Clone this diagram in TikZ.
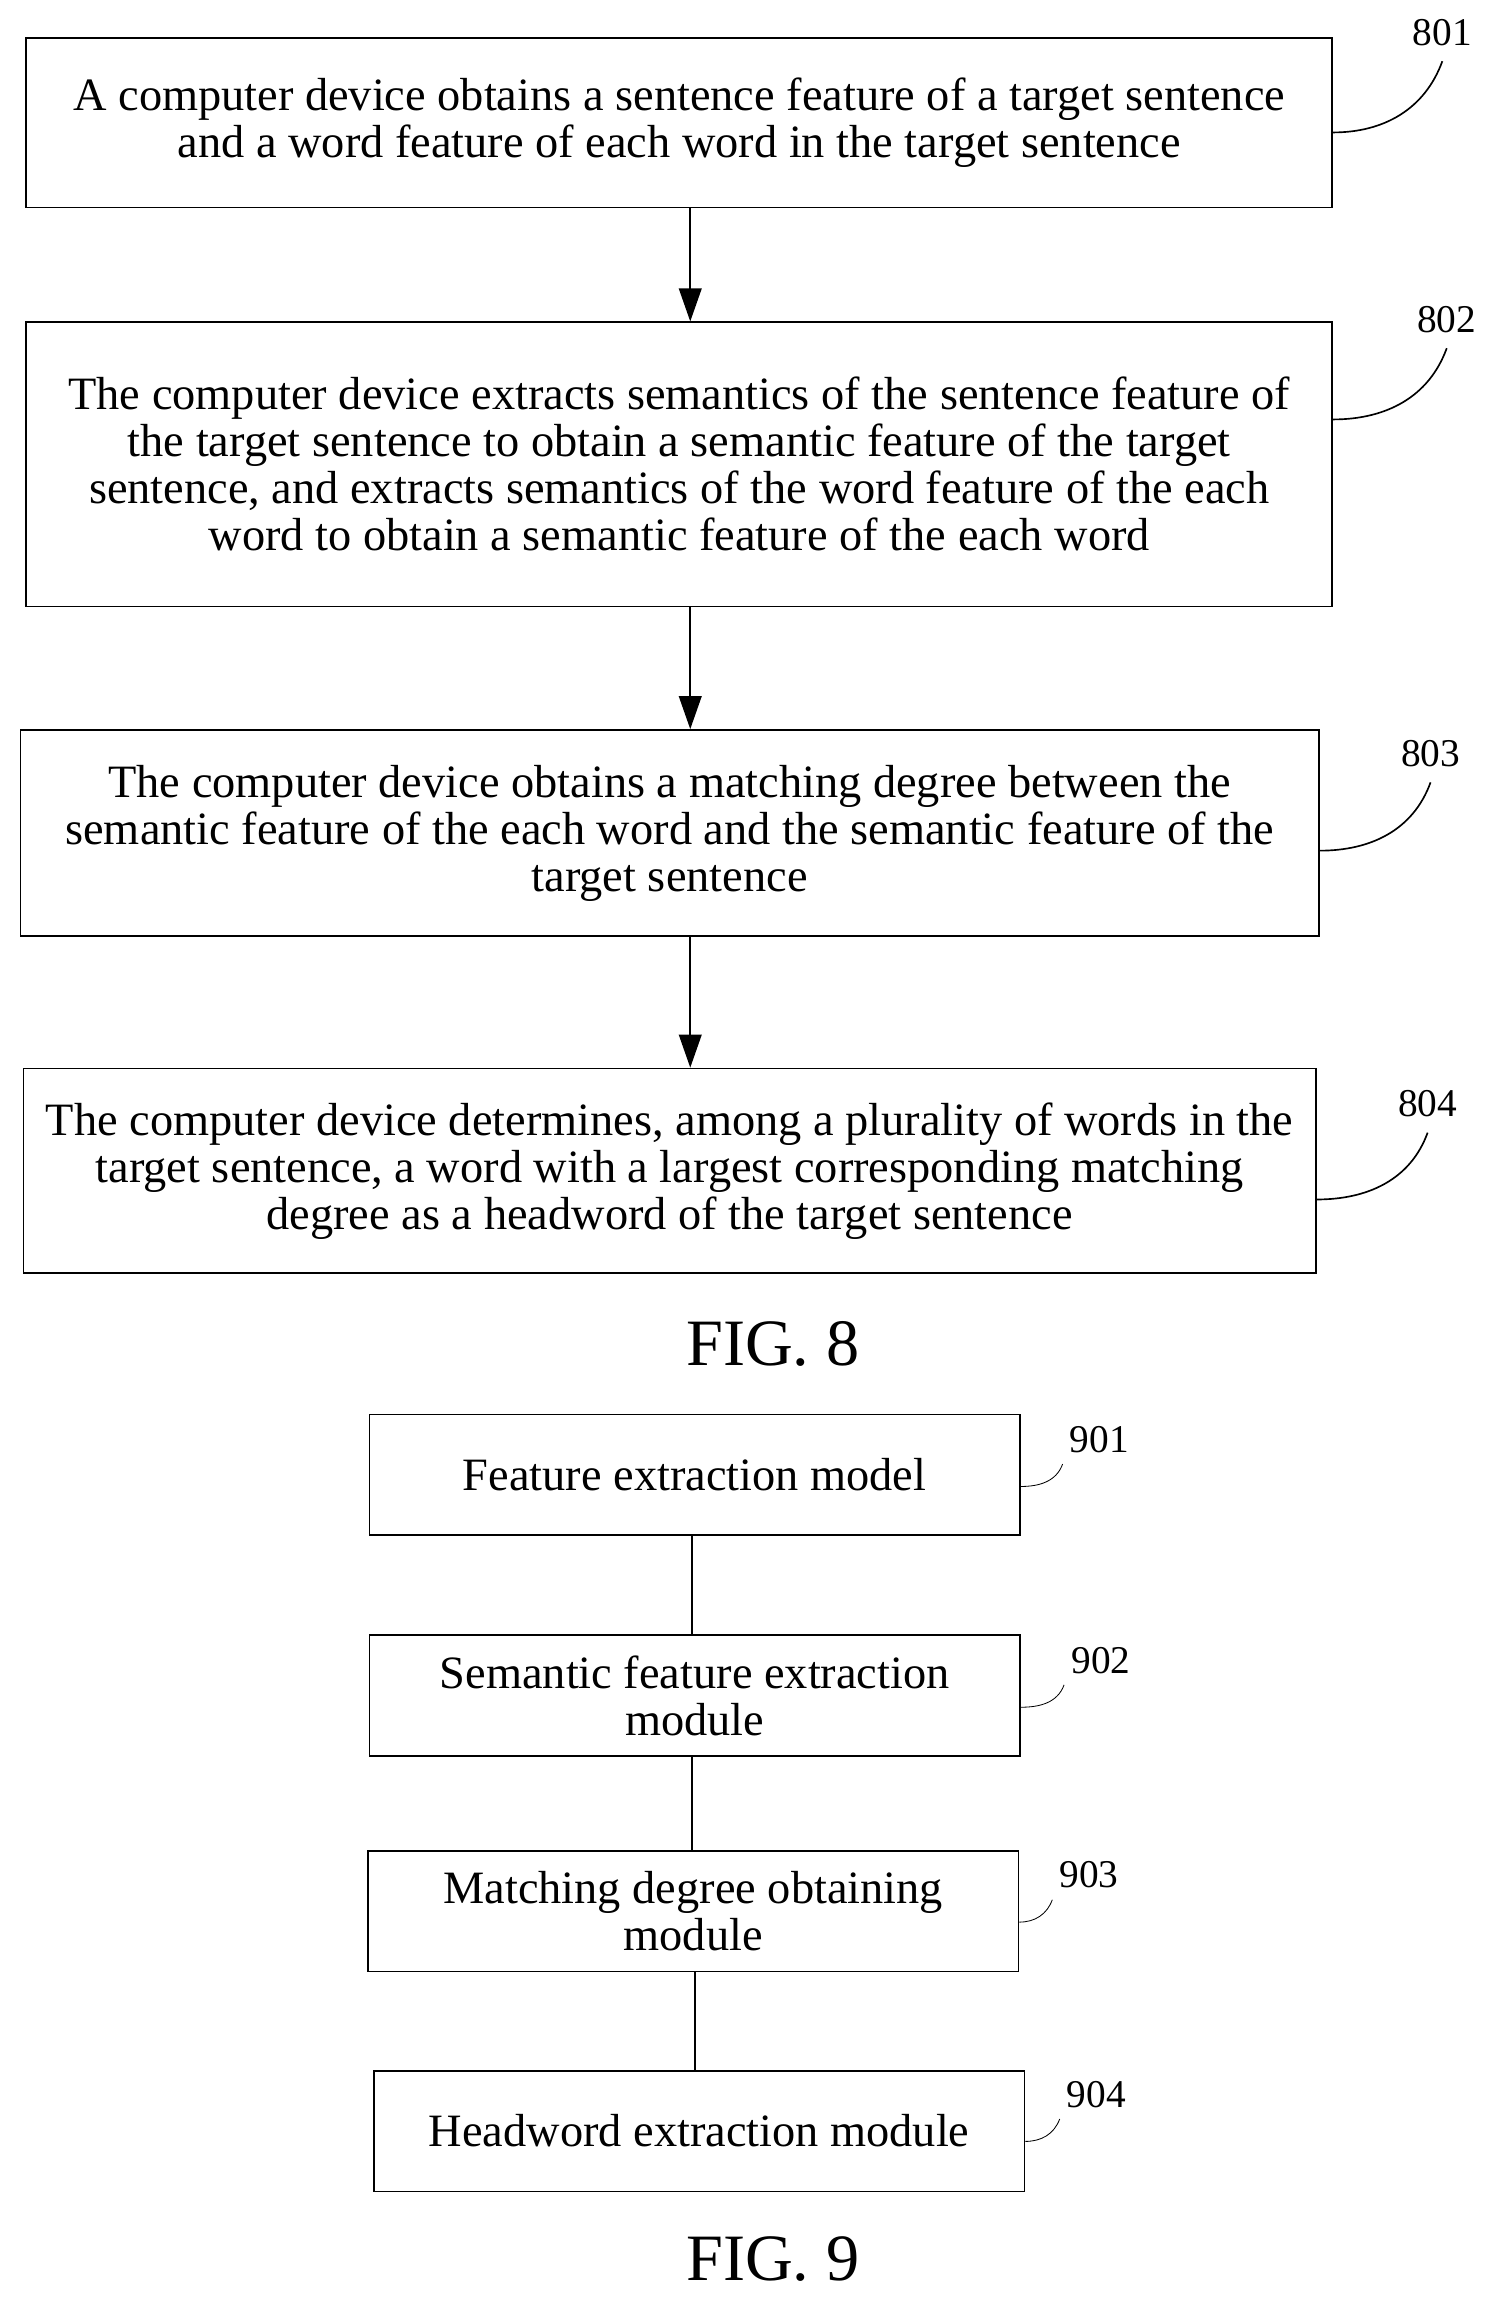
\documentclass[tikz,border=0pt]{standalone}
\usepackage{fontspec}
\setmainfont{Liberation Serif}
\usetikzlibrary{positioning,arrows.meta}
\tikzset{
  flowstep/.style={draw, thick, align=center, inner sep=0pt, font=\fontsize{22.4}{22.7}\selectfont},
  module/.style={flowstep, minimum width=11.05cm, minimum height=2.05cm},
  tag/.style={font=\fontsize{19}{22}\selectfont},
  lead/.style={thick},
  fig/.style={font=\fontsize{32}{36}\selectfont}
}
\begin{document}
\begin{tikzpicture}[>={Triangle[length=16pt,width=11pt]}, x=0.025cm, y=-0.025cm]
  \useasboundingbox (0,0) rectangle (1024,1575);
  % FIG. 8
  \node[flowstep, minimum width=22.175cm, minimum height=2.875cm] (s801) at (461.5,83.5)
    {A computer device obtains a sentence feature of a target sentence\\and a word feature of each word in the target sentence};
  \node[flowstep, minimum width=22.175cm, minimum height=4.825cm] (s802) at (461.5,315.5)
    {The computer device extracts semantics of the sentence feature of\\the target sentence to obtain a semantic feature of the target\\sentence, and extracts semantics of the word feature of the each\\word to obtain a semantic feature of the each word};
  \node[flowstep, minimum width=22.05cm, minimum height=3.5cm] (s803) at (455,566)
    {The computer device obtains a matching degree between the\\semantic feature of the each word and the semantic feature of the\\target sentence};
  \node[flowstep, minimum width=21.95cm, minimum height=3.475cm] (s804) at (455,795.5)
    {The computer device determines, among a plurality of words in the\\target sentence, a word with a largest corresponding matching\\degree as a headword of the target sentence};
  \draw[thick, ->] (s801.south -| 469,0) -- (s802.north -| 469,0);
  \draw[thick, ->] (s802.south -| 469,0) -- (s803.north -| 469,0);
  \draw[thick, ->] (s803.south -| 469,0) -- (s804.north -| 469,0);
  \node[tag] (t801) at (980,22) {801};
  \node[tag] (t802) at (983,217) {802};
  \node[tag] (t803) at (972,512) {803};
  \node[tag] (t804) at (970,750) {804};
  \draw[lead] (s801.east |- 0,90) to[out=0, in=250] ([yshift=-4pt]t801.south);
  \draw[lead] (s802.east |- 0,285) to[out=0, in=250] ([yshift=-4pt]t802.south);
  \draw[lead] (s803.east |- 0,578) to[out=0, in=250] ([yshift=-4pt]t803.south);
  \draw[lead] (s804.east |- 0,815) to[out=0, in=250] ([yshift=-4pt]t804.south);
  \node[fig] (f8) at (525,913) {FIG. 8};
  % FIG. 9
  \node[module] (m901) at (472,1002) {Feature extraction model};
  \node[module] (m902) at (472,1152) {Semantic feature extraction\\module};
  \node[module] (m903) at (471,1298.5) {Matching degree obtaining\\module};
  \node[module] (m904) at (475,1448) {Headword extraction module};
  \draw[thick] (m901.south -| 470,0) -- (m902.north -| 470,0);
  \draw[thick] (m902.south -| 470,0) -- (m903.north -| 470,0);
  \draw[thick] (m903.south -| 472,0) -- (m904.north -| 472,0);
  \node[tag] (t901) at (747,978) {901};
  \node[tag] (t902) at (748,1128) {902};
  \node[tag] (t903) at (740,1274) {903};
  \node[tag] (t904) at (745,1423) {904};
  \draw (m901.east |- 0,1010) to[out=0, in=250] ([yshift=-2pt]t901.south west);
  \draw (m902.east |- 0,1160) to[out=0, in=250] ([yshift=-2pt]t902.south west);
  \draw (m903.east |- 0,1306) to[out=0, in=250] ([yshift=-2pt]t903.south west);
  \draw (m904.east |- 0,1455) to[out=0, in=250] ([yshift=-2pt]t904.south west);
  \node[fig] (f9) at (525,1535) {FIG. 9};
\end{tikzpicture}
\end{document}
